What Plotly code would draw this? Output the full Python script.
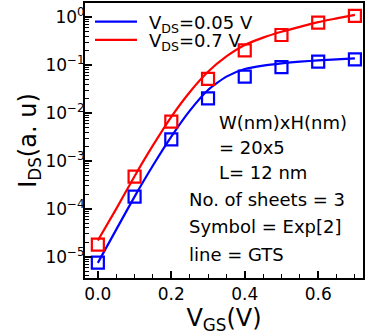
import plotly.graph_objects as go

# Measured (symbols) data
vgs_exp = [0.0, 0.1, 0.2, 0.3, 0.4, 0.5, 0.6, 0.7]
ids_exp_005 = [7.6e-6, 1.8e-4, 2.8e-3, 0.020, 0.057, 0.090, 0.117, 0.13]
ids_exp_07 = [1.8e-5, 4.7e-4, 6.6e-3, 0.051, 0.20, 0.42, 0.76, 1.05]

# GTS model (lines)
vgs_gts = [0.0, 0.05, 0.1, 0.15, 0.2, 0.25, 0.3, 0.35, 0.4, 0.45, 0.5, 0.55, 0.6, 0.65, 0.7]
ids_gts_005 = [7.5e-6, 3.7e-5, 1.8e-4, 8.0e-4, 3.2e-3, 0.011, 0.030, 0.057, 0.082,
               0.097, 0.108, 0.117, 0.124, 0.131, 0.137]
ids_gts_07 = [2.2e-5, 1.0e-4, 4.8e-4, 2.1e-3, 8.3e-3, 0.027, 0.072, 0.15, 0.26,
              0.37, 0.49, 0.62, 0.78, 0.93, 1.1]

legend_labels = ["V<sub>DS</sub>=0.05 V", "V<sub>DS</sub>=0.7 V"]
colors = ["#0000ff", "#ff0000"]

y_tickvals = [1e-5, 1e-4, 1e-3, 1e-2, 1e-1, 1e0]
y_ticktext = ["10<sup>\u22125</sup>", "10<sup>\u22124</sup>", "10<sup>\u22123</sup>",
              "10<sup>\u22122</sup>", "10<sup>\u22121</sup>", "10<sup>0</sup>"]
x_tickvals = [0.0, 0.2, 0.4, 0.6]
x_ticktext = ["0.0", "0.2", "0.4", "0.6"]

info_lines = ["W(nm)xH(nm)", "= 20x5", "L= 12 nm", "No. of sheets = 3",
              "Symbol = Exp[2]", "line = GTS"]

FONT = "DejaVu Sans"

fig = go.Figure()
for ys, lab, c in zip([ids_gts_005, ids_gts_07], legend_labels, colors):
    fig.add_trace(go.Scatter(x=vgs_gts, y=ys, mode="lines", name=lab, showlegend=False,
                             line=dict(color=c, width=2.2, shape="spline", smoothing=0.6)))
for ys, c in zip([ids_exp_005, ids_exp_07], colors):
    fig.add_trace(go.Scatter(x=vgs_exp, y=ys, mode="markers", showlegend=False,
                             marker=dict(symbol="square-open", size=12, color=c,
                                         line=dict(width=2.2, color=c))))

# Compact legend (matplotlib-like), placed in paper coordinates
leg_y = [0.932, 0.866]
for lab, c, ly in zip(legend_labels, colors, leg_y):
    fig.add_shape(type="line", xref="paper", yref="paper", x0=0.036, x1=0.187,
                  y0=ly, y1=ly, line=dict(color=c, width=2.2))
    fig.add_annotation(text=lab, x=0.222, y=ly - 0.008, xref="paper", yref="paper",
                       xanchor="left", yanchor="middle", showarrow=False,
                       font=dict(family=FONT, size=18, color="black"))

info_x = [0.475, 0.475, 0.475, 0.367, 0.367, 0.367]
info_y = [0.567, 0.476, 0.385, 0.284, 0.189, 0.084]
for t, xx, yy in zip(info_lines, info_x, info_y):
    fig.add_annotation(text=t, x=xx, y=yy, xref="paper", yref="paper",
                       xanchor="left", yanchor="middle", showarrow=False,
                       font=dict(family=FONT, size=18, color="black"))

fig.update_layout(
    width=366, height=335,
    margin=dict(l=85, r=3, t=3, b=57, autoexpand=False),
    paper_bgcolor="white", plot_bgcolor="white",
    font=dict(family=FONT, size=17, color="black"),
    showlegend=False,
)
fig.update_xaxes(
    range=[-0.035, 0.722], showgrid=False, zeroline=False, automargin=False,
    showline=True, linecolor="black", linewidth=2, mirror=True,
    ticks="inside", ticklen=7, tickwidth=1.5, tickcolor="black",
    tickvals=x_tickvals, ticktext=x_ticktext,
    tickfont=dict(family=FONT, size=17),
    minor=dict(ticks="inside", ticklen=4, tickwidth=1.2, tickcolor="black", dtick=0.05, tick0=0),
    title=dict(text="V<sub>GS</sub>(V)", font=dict(family=FONT, size=24), standoff=0),
)
fig.update_yaxes(
    type="log", range=[-5.44, 0.29], showgrid=False, zeroline=False, automargin=False,
    showline=True, linecolor="black", linewidth=2, mirror=True,
    ticks="inside", ticklen=7, tickwidth=1.5, tickcolor="black",
    tickvals=y_tickvals, ticktext=y_ticktext, ticklabelstandoff=-5,
    tickfont=dict(family=FONT, size=17),
    minor=dict(ticks="inside", ticklen=4, tickwidth=1.2, tickcolor="black", dtick="D1"),
    title=dict(text="I<sub>DS</sub>(a. u)", font=dict(family=FONT, size=24), standoff=0),
)

fig.write_html("out.html", config={"displayModeBar": False},
               post_script="document.body.style.margin='0';document.body.style.padding='0';")
